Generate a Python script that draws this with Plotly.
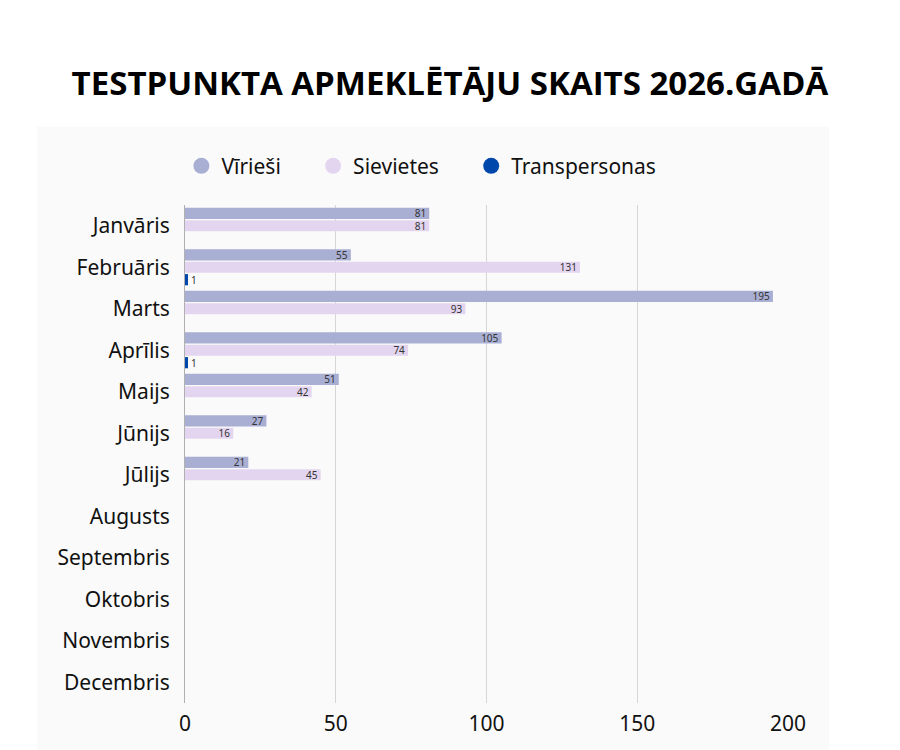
import plotly.graph_objects as go

# data
months = ["Janvāris", "Februāris", "Marts", "Aprīlis", "Maijs", "Jūnijs", "Jūlijs",
          "Augusts", "Septembris", "Oktobris", "Novembris", "Decembris"]
viriesi = [81, 55, 195, 105, 51, 27, 21, None, None, None, None, None]
sievietes = [81, 131, 93, 74, 42, 16, 45, None, None, None, None, None]
transpersonas = [None, 1, None, 1, None, None, None, None, None, None, None, None]

series_names = ["Vīrieši", "Sievietes", "Transpersonas"]
colors = ["#a9aed3", "#e3d5ef", "#0047ab"]

fig = go.Figure()

for name, vals, col in zip(series_names, [viriesi, sievietes, transpersonas], colors):
    outside = name == "Transpersonas"
    fig.add_trace(go.Bar(
        y=months, x=vals, name=name, orientation="h",
        marker=dict(color=col, line=dict(width=0)),
        text=vals, texttemplate="%{x}",
        textposition="outside" if outside else "inside",
        insidetextanchor="end", textangle=0,
        textfont=dict(size=10, color="#333333", family="Noto Sans"),
        showlegend=False,
        cliponaxis=False,
    ))

# round legend markers (nbsp padding to space the items like the original)
pad = "\u00a0" * 5
for name, col in zip(series_names, colors):
    fig.add_trace(go.Scatter(
        x=[None], y=[None], mode="markers", name=name + pad,
        marker=dict(color=col, size=20, symbol="circle"),
    ))

fig.update_layout(
    width=900, height=750,
    margin=dict(l=177, r=120, t=197, b=55),
    paper_bgcolor="white",
    plot_bgcolor="white",
    barmode="group",
    bargap=0.1,
    bargroupgap=0.1,
    uniformtext=dict(minsize=10, mode="show"),
    title=dict(
        text="<b>TESTPUNKTA APMEKLĒTĀJU SKAITS 2026.GADĀ</b>",
        x=0.491, xanchor="center", y=0.9, yanchor="middle",
        font=dict(size=33, color="black", family="Open Sans", weight=800),
    ),
    legend=dict(
        orientation="h", x=-0.006, xanchor="left", y=1.078, yanchor="middle",
        font=dict(size=21, color="#111111", family="Noto Sans"),
        itemwidth=30, bgcolor="rgba(0,0,0,0)",
    ),
    font=dict(family="Noto Sans", color="#111111"),
    shapes=[dict(
        type="rect", xref="paper", yref="paper", layer="below",
        x0=-0.245, x1=1.068, y0=-0.12, y1=1.157,
        fillcolor="#fafafa", line=dict(width=0),
    )],
)

fig.update_xaxes(
    range=[0, 200], tickvals=[0, 50, 100, 150, 200],
    showgrid=True, gridcolor="#d6d6d6", gridwidth=1,
    zeroline=False, tickfont=dict(size=21, color="#111111"),
    ticks="", ticklabelstandoff=6,
)
fig.update_yaxes(
    autorange="reversed", showgrid=False,
    showline=True, linecolor="#b0b0b0", linewidth=1,
    tickfont=dict(size=21, color="#111111"),
    ticks="", ticklabelstandoff=10,
)

fig.write_html("out.html")
